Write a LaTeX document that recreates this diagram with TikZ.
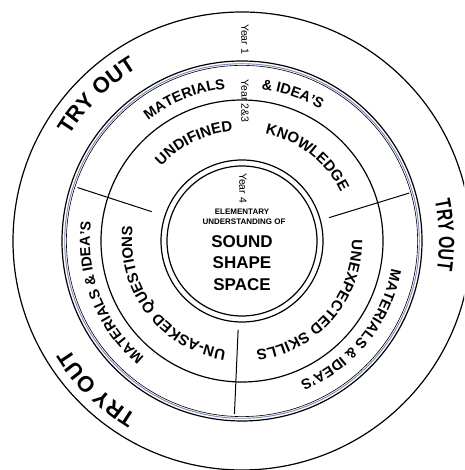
\documentclass[tikz,border=0pt]{standalone}
\usepackage{fontspec}
\setmainfont{Liberation Sans}
\newfontfamily\narrowfont[FakeStretch=0.72]{Liberation Sans}
\usetikzlibrary{decorations.text}
\newcommand\arctext[4]{%
  \path[decorate,decoration={text along path,text align=center,text={#4}}]
    ([shift={({#1+#3}:#2)}]C) arc[start angle={#1+#3}, end angle={#1-#3}, radius=#2];}
\begin{document}
\begin{tikzpicture}[x=1pt,y=1pt,
  ring/.style={line width=1.2pt, draw=black},
  thinring/.style={line width=0.6pt, draw=black},
  bluering/.style={line width=0.9pt, draw={rgb,255:red,120;green,135;blue,190}},
  divider/.style={line width=1pt, draw=black},
  yearlabel/.style={rotate=-90, inner sep=0pt, font=\fontsize{10.5}{10.5}\selectfont},
  smalllabel/.style={inner sep=0pt, font=\bfseries\fontsize{8}{8}\selectfont},
  biglabel/.style={inner sep=0pt, font=\bfseries\fontsize{17}{17}\selectfont}]
\useasboundingbox (0,0) rectangle (464,470);
\clip (0,0) rectangle (464,470);
\coordinate (C) at (242,229);
% rings
\draw[ring] (C) circle[radius=229];
\draw[ring] (C) circle[radius=180];
\draw[bluering] (C) circle[radius=177.3];
\draw[thinring] (C) circle[radius=175.6];
\draw[ring] (C) circle[radius=141];
\draw[ring] (C) circle[radius=81];
\draw[ring] (C) circle[radius=75];
% dividers
\coordinate (d1a) at ([shift={(162:95)}]C);
\coordinate (d1b) at ([shift={(162:173)}]C);
\coordinate (d2a) at ([shift={(15:90)}]C);
\coordinate (d2b) at ([shift={(16:174)}]C);
\coordinate (d3a) at ([shift={(267.5:89)}]C);
\coordinate (d3b) at ([shift={(267.5:173)}]C);
\draw[divider] (d1a) -- (d1b);
\draw[divider] (d2a) -- (d2b);
\draw[divider] (d3a) -- (d3b);
% outer ring text
\arctext{135}{202}{45}{|\bfseries\fontsize{22}{22}\selectfont|TRY OUT}
\arctext{225.4}{204}{45}{|\bfseries\fontsize{22}{22}\selectfont|TRY OUT}
\arctext{1.7}{197}{45}{|\narrowfont\bfseries\fontsize{22}{22}\selectfont|TRY OUT}
% second ring text
\arctext{112}{153}{50}{|\bfseries\fontsize{14.5}{14.5}\selectfont|MATERIALS}
\arctext{71}{153}{50}{|\bfseries\fontsize{14.5}{14.5}\selectfont|{\&} IDEA'S}
\arctext{-39}{152}{60}{|\bfseries\fontsize{14.5}{14.5}\selectfont|MATERIALS {\&} IDEA'S}
\arctext{201.5}{152}{60}{|\bfseries\fontsize{14.5}{14.5}\selectfont|MATERIALS {\&} IDEA'S}
% third ring text
\arctext{116}{110}{50}{|\bfseries\fontsize{15}{15}\selectfont|UNDIFINED}
\arctext{52}{110}{50}{|\bfseries\fontsize{15}{15}\selectfont|KNOWLEDGE}
\arctext{-41}{110}{70}{|\bfseries\fontsize{15}{15}\selectfont|UNEXPECTED SKILLS}
\arctext{217}{110}{70}{|\bfseries\fontsize{15}{15}\selectfont|UN-ASKED QUESTIONS}
% year labels
\node[yearlabel] (y1) at (245,431) {Year 1};
\node[yearlabel] (y23) at (245,369) {Year 2\&3};
\node[yearlabel] (y4) at (243,282) {Year 4};
% centre
\node[smalllabel] (el) at (242,258) {ELEMENTARY};
\node[smalllabel] (un) at (244,248) {UNDERSTANDING OF};
\node[biglabel] (so) at (242,228) {SOUND};
\node[biglabel] (sh) at (242,207) {SHAPE};
\node[biglabel] (sp) at (242,185) {SPACE};
\end{tikzpicture}
\end{document}
